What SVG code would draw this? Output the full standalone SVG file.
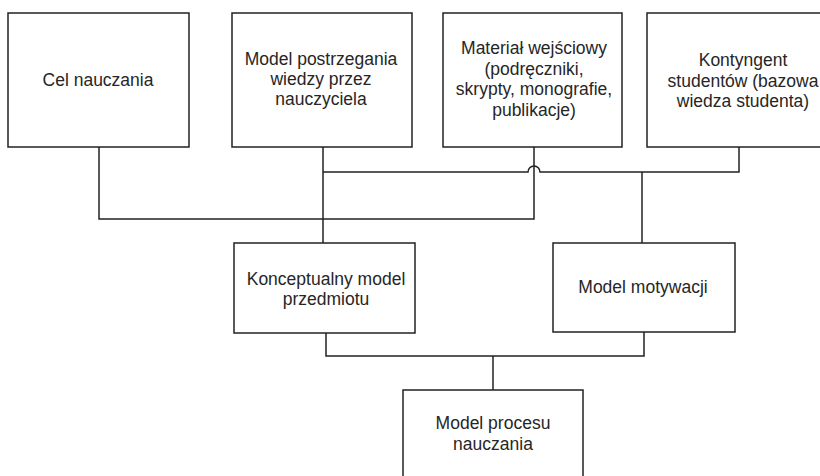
<svg xmlns="http://www.w3.org/2000/svg" width="820" height="476" viewBox="0 0 820 476">
  <style>
    .box { fill: #ffffff; stroke: #222222; stroke-width: 1.5; }
    .wire { fill: none; stroke: #222222; stroke-width: 1.5; }
    .lbl { font-family: "Liberation Sans", Arial, sans-serif; font-size: 17.5px; fill: #262626; text-anchor: middle; }
  </style>
  <rect width="820" height="476" fill="#ffffff"/>

  <!-- connectors -->
  <g id="connectors">
    <!-- goal to input-material junction -->
    <path class="wire" d="M99 147 V219 H534 V147"/>
    <!-- perception model down to conceptual model -->
    <path class="wire" d="M323 147 V243"/>
    <!-- upper bus, hopping over the material line -->
    <path class="wire" d="M323 172 H528 A6 6 0 0 1 540 172 H739 V147"/>
    <path class="wire" d="M642 172 V243"/>
    <!-- lower bus to teaching process model -->
    <path class="wire" d="M326 333 V356 H644 V332"/>
    <path class="wire" d="M493 356 V390"/>
  </g>

  <g id="cel-nauczania">
    <rect class="box" x="8" y="13" width="181" height="134"/>
    <text class="lbl" x="98" y="86">Cel nauczania</text>
  </g>

  <g id="model-postrzegania">
    <rect class="box" x="232" y="13" width="180" height="134"/>
    <text class="lbl" x="321" y="65">Model postrzegania</text>
    <text class="lbl" x="321" y="85">wiedzy przez</text>
    <text class="lbl" x="321" y="105">nauczyciela</text>
  </g>

  <g id="material-wejsciowy">
    <rect class="box" x="443" y="13" width="179" height="134"/>
    <text class="lbl" x="534" y="54">Materiał wejściowy</text>
    <text class="lbl" x="534" y="75">(podręczniki,</text>
    <text class="lbl" x="534" y="95">skrypty, monografie,</text>
    <text class="lbl" x="534" y="116">publikacje)</text>
  </g>

  <g id="kontyngent-studentow">
    <rect class="box" x="647" y="13" width="185" height="134"/>
    <text class="lbl" x="743" y="66">Kontyngent</text>
    <text class="lbl" x="743" y="87">studentów (bazowa</text>
    <text class="lbl" x="743" y="107">wiedza studenta)</text>
  </g>

  <g id="konceptualny-model">
    <rect class="box" x="234" y="243" width="181" height="90"/>
    <text class="lbl" x="326" y="285">Konceptualny model</text>
    <text class="lbl" x="326" y="305">przedmiotu</text>
  </g>

  <g id="model-motywacji">
    <rect class="box" x="553" y="243" width="182" height="89"/>
    <text class="lbl" x="643" y="293">Model motywacji</text>
  </g>

  <g id="model-procesu">
    <rect class="box" x="403" y="390" width="180" height="100"/>
    <text class="lbl" x="493" y="429">Model procesu</text>
    <text class="lbl" x="493" y="450">nauczania</text>
  </g>
</svg>
